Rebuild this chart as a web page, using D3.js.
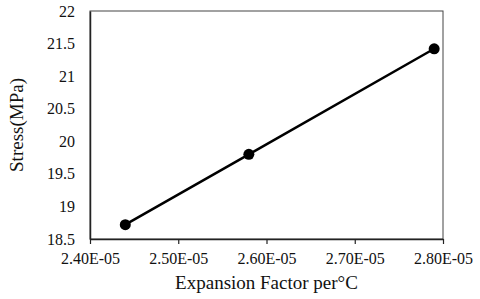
<!DOCTYPE html>
<html>
<head>
<meta charset="utf-8">
<script src="https://cdn.jsdelivr.net/npm/d3@7"></script>
<style>
  body { margin: 0; background: #fff; }
</style>
</head>
<body>
<div id="chart"></div>
<script>
var expansion = [2.44e-5, 2.58e-5, 2.79e-5],
    stress    = [18.72, 19.8, 21.42],
    xTicks    = [2.4e-5, 2.5e-5, 2.6e-5, 2.7e-5, 2.8e-5],
    yTicks    = [18.5, 19, 19.5, 20, 20.5, 21, 21.5, 22];

var width = 480, height = 299,
    margin = {top: 11, right: 37, bottom: 60, left: 90},
    serif = '"Liberation Serif"';

var svg = d3.select('#chart').append('svg')
    .attr('width', width)
    .attr('height', height);

var x = d3.scaleLinear().domain([2.4e-5, 2.8e-5]).range([margin.left, width - margin.right]),
    y = d3.scaleLinear().domain([18.5, 22]).range([height - margin.bottom, margin.top]);

// frame
svg.append('rect')
    .attr('x', x.range()[0]).attr('y', y.range()[1])
    .attr('width', x.range()[1] - x.range()[0])
    .attr('height', y.range()[0] - y.range()[1])
    .attr('fill', 'none')
    .attr('stroke', '#444')
    .attr('stroke-width', 1);

var fmt = (d) => d.toExponential(2).toUpperCase().replace('E-', 'E-0');

var xGroup = svg.append('g')
    .attr('transform', 'translate(0,' + y.range()[0] + ')')
    .call(d3.axisBottom(x).tickValues(xTicks).tickFormat(fmt).tickSize(5).tickSizeOuter(0).tickPadding(9));

var yGroup = svg.append('g')
    .attr('transform', 'translate(' + x.range()[0] + ',0)')
    .call(d3.axisLeft(y).tickValues(yTicks).tickFormat(d3.format('')).tickSize(0).tickPadding(15));

// axis groups carry their own font attributes, override them
[xGroup, yGroup].forEach((g) => g.attr('font-family', serif).attr('font-size', 16));

svg.selectAll('.domain').attr('stroke', '#222').attr('stroke-width', 1.5);
svg.selectAll('.tick line').attr('stroke', '#222').attr('stroke-width', 1.2);
svg.selectAll('.tick text')
    .style('font-size', '16px')
    .style('font-family', serif)
    .attr('fill', '#111');

var pts = expansion.map((e, i) => [e, stress[i]]);

svg.append('path')
    .datum(pts)
    .attr('fill', 'none')
    .attr('stroke', '#000')
    .attr('stroke-width', 2.5)
    .attr('d', d3.line().x((d) => x(d[0])).y((d) => y(d[1])));

svg.selectAll('circle.pt').data(pts).enter()
    .append('circle')
    .attr('class', 'pt')
    .attr('cx', (d) => x(d[0]))
    .attr('cy', (d) => y(d[1]))
    .attr('r', 5.5)
    .attr('fill', '#000');

svg.append('text')
    .attr('x', (x.range()[0] + x.range()[1]) / 2)
    .attr('y', 289)
    .attr('text-anchor', 'middle')
    .style('font-size', '19px')
    .style('font-family', serif)
    .attr('fill', '#111')
    .text('Expansion Factor per°C');

svg.append('text')
    .attr('transform', 'translate(23,' + ((y.range()[0] + y.range()[1]) / 2) + ') rotate(-90)')
    .attr('text-anchor', 'middle')
    .style('font-size', '19px')
    .style('font-family', serif)
    .attr('fill', '#111')
    .text('Stress(MPa)');
</script>
</body>
</html>
